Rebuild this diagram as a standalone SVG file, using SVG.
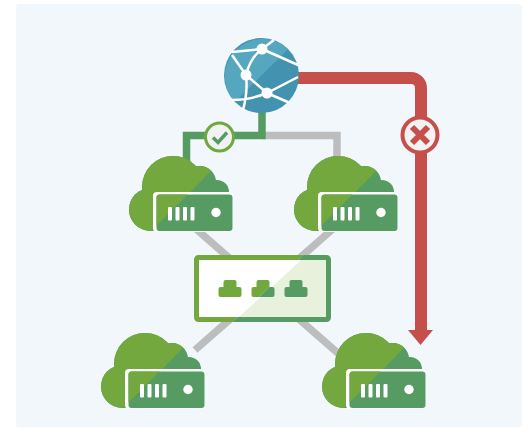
<svg xmlns="http://www.w3.org/2000/svg" width="522" height="428" viewBox="0 0 522 428">
<style>
.dg{fill:#569b62}.lg{fill:#72a83e}
.w{fill:#fff}
.grey{fill:none;stroke:#bdbdbd;stroke-width:7.500}
.r{fill:#c5504c}
</style>
<defs>
<filter id="soft" x="0" y="0" width="100%" height="100%"><feGaussianBlur stdDeviation="0.45"/></filter>
<clipPath id="lit"><path d="M-10-10H107L-10 107Z"/></clipPath>
<clipPath id="sw-l"><path d="M190 250H309L227 327H190Z"/></clipPath>
<clipPath id="sw-r"><path d="M309 250H340V327H227Z"/></clipPath>
<g id="cloud">
<circle cx="21.500" cy="53.500" r="21.500"/><circle cx="44" cy="31" r="31"/><circle cx="71" cy="26" r="16"/><circle cx="88" cy="36" r="12"/><rect x="22" y="34" width="66" height="41"/>
</g>
<g id="server">
<use href="#cloud" class="dg"/>
<g clip-path="url(#lit)"><use href="#cloud" class="lg"/></g>
<rect x="24" y="36" width="80" height="40" rx="4" class="w"/>
<rect x="27.500" y="38.500" width="76" height="36.500" rx="3" class="dg"/>
<path class="lg" d="M31 38.500H58.500L27.500 69.500V42a3 3 0 0 1 3-3.500z"/>
<g class="w">
<rect x="39" y="51" width="4" height="13.500" rx="1"/><rect x="46.500" y="51" width="4" height="13.500" rx="1"/><rect x="54" y="51" width="4" height="13.500" rx="1"/><rect x="61.500" y="51" width="4" height="13.500" rx="1"/>
<circle cx="87" cy="56.500" r="4.700"/>
</g>
</g>
<path id="jack" d="M-9.500 8.500a2 2 0 0 1-2-2v-6a2 2 0 0 1 2-2h3v-5a2 2 0 0 1 2-2h9a2 2 0 0 1 2 2v5h3a2 2 0 0 1 2 2v6a2 2 0 0 1-2 2z"/>
</defs>
<rect width="522" height="428" fill="#fff"/>
<g filter="url(#soft)">
<rect x="16" y="4" width="506" height="423.500" rx="3" fill="#f2f7fc"/>
<g id="connectors">
<path class="grey" d="M262 135.500H337V165"/>
<path class="grey" d="M195 228L340 355M335 227L195 350"/>
<path fill="none" stroke="#569b62" stroke-width="7.500" d="M262 108V135.500H186.500V165"/>
<path fill="none" stroke="#c5504c" stroke-width="12" d="M296 78H411a10 10 0 0 1 10 10V332"/>
<path class="r" d="M408 330H433L420.500 345Z"/>
</g>
<g id="check-badge">
<circle cx="219.500" cy="137" r="14" fill="#f2f2f2" stroke="#6fa83f" stroke-width="3"/>
<path d="M213 137.500l5 5 9-10" fill="none" stroke="#569b62" stroke-width="3.500"/>
</g>
<g id="cross-badge">
<circle cx="420" cy="135" r="17.500" fill="#f2f2f2" stroke="#c5504c" stroke-width="4"/>
<path d="M412 127l16 16M428 127l-16 16" fill="none" stroke="#c5504c" stroke-width="6"/>
</g>
<g id="globe">
<circle cx="261.500" cy="75.500" r="37.500" fill="#4392b0"/>
<path d="M235 102A37.500 37.500 0 0 1 288 49Z" fill="#55a7bf"/>
<g fill="none" stroke="#fff" stroke-width="2.500">
<path d="M232 55L246 75 267 93 298 77M262 49L298 65M262 49Q250 58 246 75M262 49L274 40M232 52L262 49M246 75Q248 92 243 110M267 93L290 103M232 100Q250 100 267 93"/>
</g>
<g class="w"><circle cx="262" cy="49" r="5.500"/><circle cx="246" cy="75" r="5.500"/><circle cx="267" cy="93" r="5.500"/></g>
</g>
<g id="server-a"><use href="#server" transform="translate(129 156)"/></g>
<g id="server-b"><use href="#server" transform="translate(294 156)"/></g>
<g id="switch">
<rect x="196.500" y="257.500" width="132" height="62" fill="#fff"/>
<path d="M304 257.500H328.500V319.500H236Z" fill="#e8f1dc"/>
<g clip-path="url(#sw-l)"><rect x="196.500" y="257.500" width="132" height="62" rx="2" fill="none" stroke="#72a83e" stroke-width="5"/></g>
<g clip-path="url(#sw-r)"><rect x="196.500" y="257.500" width="132" height="62" rx="2" fill="none" stroke="#569b62" stroke-width="5"/></g>
<use href="#jack" x="230" y="288.500" class="lg"/>
<g clip-path="url(#sw-l)"><use href="#jack" x="263" y="288.500" class="lg"/></g>
<g clip-path="url(#sw-r)"><use href="#jack" x="263" y="288.500" class="dg"/></g>
<use href="#jack" x="296" y="288.500" class="dg"/>
</g>
<g id="server-c"><use href="#server" transform="translate(101 333)"/></g>
<g id="server-d"><use href="#server" transform="translate(322 333)"/></g>
</g>
</svg>
